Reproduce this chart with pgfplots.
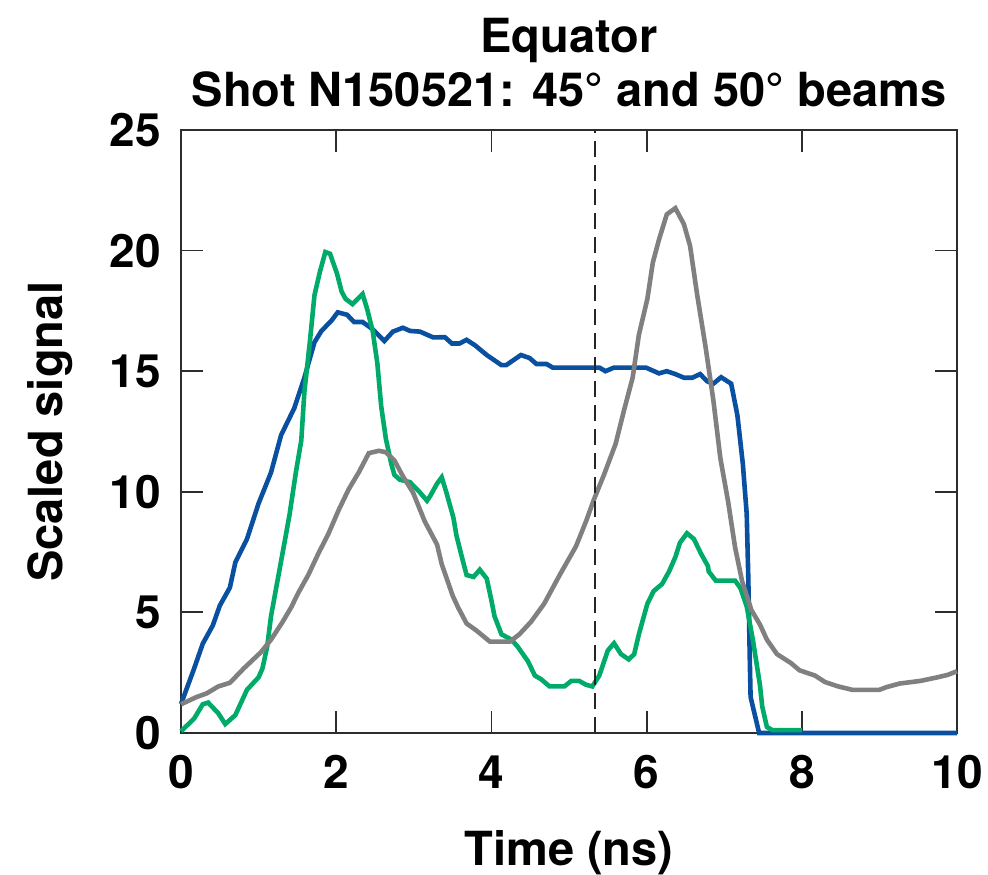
\documentclass[border=0pt]{standalone}
\usepackage{pgfplots}
\pgfplotsset{compat=1.18}
\usepackage{fontspec}
\setmainfont{TeX Gyre Heros}
\definecolor{cblue}{RGB}{10,80,160}
\definecolor{cgreen}{RGB}{0,170,105}
\definecolor{cgray}{RGB}{128,128,128}
\definecolor{caxis}{RGB}{45,45,45}
\begin{document}
\begin{tikzpicture}
\begin{axis}[
  name=ax,
  scale only axis,
  width=388pt, height=301.5pt,
  xmin=0, xmax=10, ymin=0, ymax=25,
  xtick={0,2,...,10}, ytick={0,5,...,25},
  tick align=inside,
  major tick length=11pt,
  every tick/.style={caxis, line width=0.9pt},
  axis line style={caxis, line width=1.4pt},
  /pgf/number format/assume math mode=true,
  every tick label/.append style={font=\fontsize{23}{27}\selectfont\bfseries, inner sep=0pt},
  xticklabel style={anchor=north, yshift=-11pt},
  yticklabel style={anchor=east, xshift=-10pt},
  clip=false,
]
\addplot[cblue, line width=2.3pt] coordinates {
(0,1.2) (0.17,2.68) (0.28,3.7) (0.41,4.46) (0.50,5.28) (0.63,6.03) (0.70,7.07) (0.85,8.04)
(1.00,9.52) (1.16,10.8) (1.29,12.35) (1.46,13.47) (1.59,14.73) (1.72,16.2) (1.81,16.67)
(1.94,17.1) (2.02,17.44) (2.14,17.34) (2.23,17.04) (2.34,17.04) (2.47,16.74) (2.62,16.25)
(2.73,16.64) (2.86,16.8) (2.95,16.67) (3.08,16.64) (3.25,16.4) (3.40,16.41) (3.49,16.15)
(3.59,16.15) (3.68,16.3) (3.79,16.07) (3.94,15.67) (4.13,15.25) (4.19,15.25) (4.38,15.67)
(4.49,15.55) (4.58,15.3) (4.71,15.3) (4.79,15.15) (5.39,15.15) (5.47,15.0) (5.58,15.15)
(5.99,15.15) (6.16,14.91) (6.26,15.0) (6.37,14.88) (6.48,14.73) (6.59,14.73) (6.69,14.88)
(6.78,14.58) (6.86,14.48) (6.96,14.75) (7.09,14.48) (7.17,13.17) (7.24,11.16) (7.29,9.08)
(7.31,6.5) (7.33,3.0) (7.34,1.49) (7.45,0) (10,0)
};
\addplot[cgreen, line width=2.3pt] coordinates {
(0,0.07) (0.17,0.6) (0.28,1.19) (0.35,1.26) (0.48,0.82) (0.57,0.37) (0.70,0.74) (0.85,1.79)
(1.00,2.31) (1.05,2.68) (1.11,3.57) (1.16,4.84) (1.24,6.25) (1.35,8.18) (1.40,9.08)
(1.48,10.8) (1.55,12.13) (1.59,14.14) (1.66,16.2) (1.72,18.15) (1.79,19.12) (1.86,19.94)
(1.92,19.87) (2.01,19.05) (2.07,18.3) (2.12,18.0) (2.21,17.78) (2.34,18.2) (2.40,17.56)
(2.47,16.67) (2.53,15.33) (2.58,13.54) (2.64,12.2) (2.71,11.16) (2.75,10.7) (2.82,10.5)
(2.95,10.4) (3.08,9.97) (3.17,9.63) (3.21,9.82) (3.30,10.34) (3.36,10.6) (3.42,9.97)
(3.51,8.93) (3.55,8.18) (3.62,7.29) (3.68,6.55) (3.77,6.47) (3.85,6.77) (3.94,6.4)
(4.0,5.5) (4.04,4.84) (4.13,4.09) (4.26,3.87) (4.34,3.57) (4.47,2.98) (4.56,2.38)
(4.64,2.23) (4.75,1.93) (4.94,1.93) (5.03,2.16) (5.13,2.16) (5.22,2.0) (5.30,1.93)
(5.39,2.38) (5.50,3.42) (5.58,3.72) (5.67,3.27) (5.77,3.05) (5.84,3.27) (5.90,4.09)
(6.01,5.36) (6.09,5.88) (6.20,6.18) (6.29,6.7) (6.37,7.29) (6.43,7.89) (6.52,8.28)
(6.61,8.04) (6.70,7.44) (6.79,6.92) (6.80,6.70) (6.89,6.32) (7.14,6.32) (7.21,6.0)
(7.29,5.25) (7.37,3.85) (7.46,2.0) (7.49,1.1) (7.55,0.25) (7.62,0.12) (8.0,0.12)
};
\addplot[cgray, line width=2.3pt] coordinates {
(0,1.19) (0.20,1.49) (0.33,1.64) (0.48,1.93) (0.63,2.08) (0.81,2.68) (1.03,3.35) (1.16,3.87)
(1.31,4.61) (1.42,5.21) (1.51,5.80) (1.64,6.55) (1.77,7.44) (1.90,8.26) (2.03,9.23)
(2.16,10.1) (2.29,10.8) (2.42,11.6) (2.55,11.7) (2.64,11.64) (2.75,11.3) (2.86,10.64)
(2.99,9.97) (3.14,8.78) (3.30,7.81) (3.36,7.0) (3.50,5.7) (3.57,5.21) (3.68,4.54)
(3.81,4.24) (3.98,3.79) (4.24,3.79) (4.36,4.09) (4.51,4.61) (4.68,5.36) (4.88,6.55)
(5.09,7.74) (5.22,8.78) (5.32,9.67) (5.45,10.7) (5.60,11.98) (5.71,13.39) (5.82,14.73)
(5.90,16.5) (6.01,18.0) (6.08,19.5) (6.16,20.46) (6.26,21.5) (6.37,21.76) (6.48,21.1)
(6.56,20.2) (6.65,18.2) (6.76,16.0) (6.86,13.8) (6.95,11.4) (7.05,9.6) (7.14,7.7)
(7.23,6.3) (7.35,5.1) (7.46,4.5) (7.55,3.87) (7.68,3.27) (7.86,2.9) (7.97,2.6)
(8.17,2.38) (8.30,2.11) (8.47,1.93) (8.65,1.79) (9.0,1.79) (9.09,1.9) (9.26,2.05)
(9.53,2.16) (9.75,2.31) (9.88,2.41) (10,2.56)
};
\addplot[black!85, line width=1.1pt, dash pattern=on 8pt off 4pt] coordinates {(5.33,0) (5.33,25)};
\end{axis}
\node[anchor=base, font=\fontsize{23.5}{27}\selectfont\bfseries] at ([yshift=38.5pt]ax.north) {Equator};
\node[anchor=base, font=\fontsize{23.5}{27}\selectfont\bfseries] at ([yshift=11.5pt]ax.north) {Shot N150521: 45° and 50° beams};
\node[anchor=base, font=\fontsize{23.5}{27}\selectfont\bfseries] at ([yshift=-66.5pt]ax.south) {Time (ns)};
\node[anchor=base, rotate=90, font=\fontsize{23.5}{27}\selectfont\bfseries] at ([xshift=-59pt]ax.west) {Scaled signal};
\pgfresetboundingbox
\useasboundingbox ([xshift=-90.5pt,yshift=-71pt]ax.south west) rectangle ([xshift=15.5pt,yshift=65pt]ax.north east);
\end{tikzpicture}
\end{document}
